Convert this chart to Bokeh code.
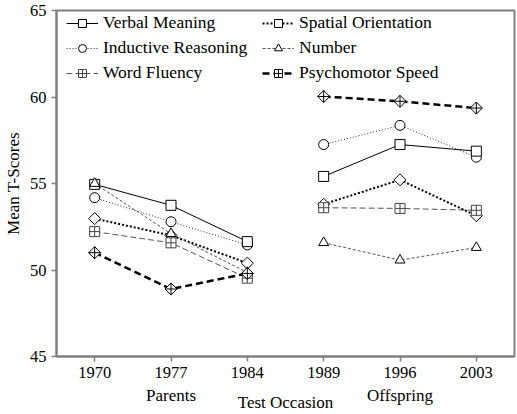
import math
from bokeh.plotting import figure
from bokeh.models import Range1d, FixedTicker, Legend, LegendItem, FactorRange
from bokeh.embed import file_html
from bokeh.resources import INLINE

# ---- data ----
groups = ["Parents", "Offspring"]
group_years = [["1970", "1977", "1984"], ["1989", "1996", "2003"]]
x_title = "Test Occasion"
y_title = "Mean T-Scores"
y_ticks = [45, 50, 55, 60, 65]

verbal = [54.95, 53.74, 51.64, 55.41, 57.25, 56.87]
inductive = [54.18, 52.79, 51.45, 57.25, 58.36, 56.52]
word_fluency = [52.22, 51.57, 49.53, 53.60, 53.56, 53.45]
spatial = [52.97, 52.00, 50.40, 53.80, 55.21, 53.14]
number = [55.00, 52.10, 49.85, 51.58, 50.57, 51.30]
psychomotor = [51.00, 48.90, 49.80, 60.03, 59.75, 59.36]

FONT = "Liberation Serif"
GRAY = "#808080"

factors = [(g, y) for g, ys in zip(groups, group_years) for y in ys]

p = figure(width=517, height=414, output_backend="svg", toolbar_location=None,
           x_range=FactorRange(factors=factors, group_padding=0, factor_padding=0),
           y_range=Range1d(y_ticks[0], y_ticks[-1]),
           min_border_left=54, min_border_right=3, min_border_top=10, min_border_bottom=10)
p.xgrid.visible = False
p.ygrid.visible = False
p.outline_line_color = GRAY
p.outline_line_width = 2
p.background_fill_color = "white"
p.border_fill_color = "white"

for ax in (p.xaxis[0], p.yaxis[0]):
    ax.axis_line_color = GRAY
    ax.axis_line_width = 2
    ax.major_tick_line_color = GRAY
    ax.major_tick_line_width = 1.5
    ax.major_tick_in = 0
    ax.major_tick_out = 5
    ax.minor_tick_line_color = None
    ax.major_label_text_font = FONT
    ax.major_label_text_font_size = "16.5px"
    ax.major_label_text_color = "black"
    ax.axis_label_text_font = FONT
    ax.axis_label_text_font_size = "17px"
    ax.axis_label_text_font_style = "normal"
    ax.axis_label_text_color = "black"

p.yaxis.major_label_standoff = 5
p.xaxis.major_label_standoff = 5
p.yaxis.ticker = FixedTicker(ticks=y_ticks)
p.yaxis.axis_label = y_title
p.yaxis.axis_label_standoff = 4

xa = p.xaxis[0]
xa.axis_label = x_title
xa.axis_label_standoff = -15
xa.group_text_font = FONT
xa.group_text_font_size = "17px"
xa.group_text_font_style = "normal"
xa.group_text_color = "black"
xa.separator_line_color = None

series = [
    dict(name="Verbal Meaning", y=verbal, color="black", width=1, dash="solid",
         markers=[dict(marker="square", size=10, angle=0)]),
    dict(name="Inductive Reasoning", y=inductive, color="#333333", width=1, dash="1 2",
         markers=[dict(marker="circle", size=10, angle=0)]),
    dict(name="Word Fluency", y=word_fluency, color="#555555", width=1, dash="6 3",
         markers=[dict(marker="square_cross", size=10, angle=0)]),
    dict(name="Spatial Orientation", y=spatial, color="black", width=2, dash="2 2",
         markers=[dict(marker="square", size=8.5, angle=math.pi / 4)]),
    dict(name="Number", y=number, color="#555555", width=1, dash="3 2",
         markers=[dict(marker="triangle", size=10, angle=0)]),
    dict(name="Psychomotor Speed", y=psychomotor, color="black", width=2.5, dash="7 4",
         markers=[dict(marker="square", size=8.5, angle=math.pi / 4),
                  dict(marker="cross", size=12, angle=0)]),
]

# one line per group (parents and offspring are not connected)
line_rs = {}
for s in series:
    rs = []
    start = 0
    for g, ys in zip(groups, group_years):
        xs = [(g, y) for y in ys]
        vals = s["y"][start:start + len(ys)]
        start += len(ys)
        rs.append(p.line(xs, vals, line_color=s["color"], line_width=s["width"],
                         line_dash=s["dash"]))
    line_rs[s["name"]] = rs

marker_rs = {}
draw_order = ["Spatial Orientation", "Inductive Reasoning", "Verbal Meaning",
              "Number", "Word Fluency", "Psychomotor Speed"]
by_name = {s["name"]: s for s in series}
for nm in draw_order:
    s = by_name[nm]
    rs = []
    mc = "#444444" if nm == "Word Fluency" else "black"
    for m in s["markers"]:
        rs.append(p.scatter(factors, s["y"], marker=m["marker"], size=m["size"],
                            angle=m["angle"], fill_color="white", line_color=mc,
                            line_width=1))
    marker_rs[nm] = rs

items = [LegendItem(label=s["name"], renderers=[line_rs[s["name"]][0]] + marker_rs[s["name"]])
         for s in series]


def make_legend(its, loc):
    return Legend(items=its, location=loc, label_text_font=FONT, label_text_font_size="17.5px",
                  label_text_color="black", glyph_width=32, glyph_height=20, label_height=20,
                  label_standoff=5, spacing=4, padding=0, margin=0,
                  border_line_alpha=0, background_fill_alpha=0)


p.add_layout(make_legend(items[:3], (10, 273)))
p.add_layout(make_legend(items[3:], (206, 273)))

open("out.html", "w").write(file_html(p, INLINE))
